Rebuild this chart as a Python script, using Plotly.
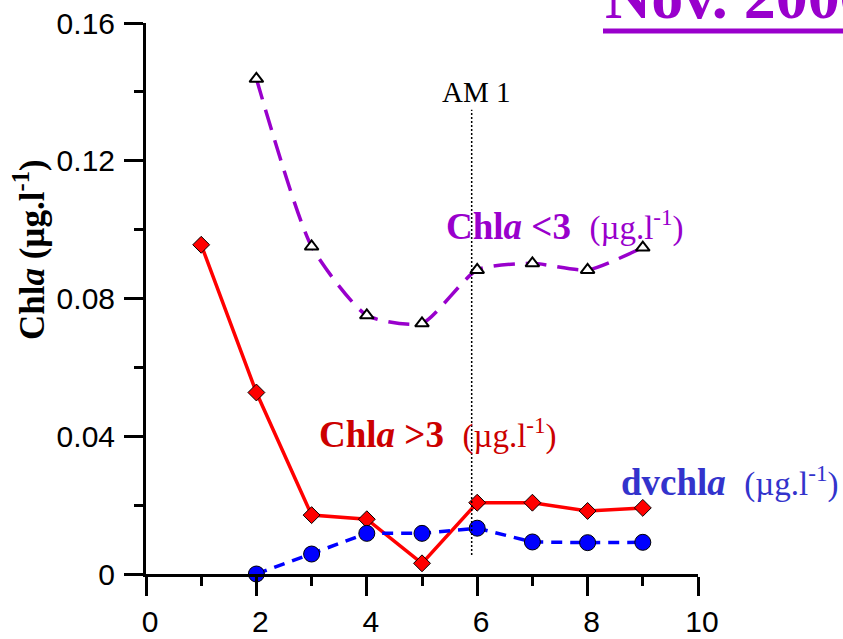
import plotly.graph_objects as go

# Sampling stations and chlorophyll concentrations (µg.l-1)
stations_gt3 = [1, 2, 3, 4, 5, 6, 7, 8, 9]
chla_gt3 = [0.0956, 0.0527, 0.0171, 0.0159, 0.0031, 0.0207, 0.0207, 0.0183, 0.0192]

stations_lt3 = [2, 3, 4, 5, 6, 7, 8, 9]
chla_lt3 = [0.1438, 0.0951, 0.0751, 0.0728, 0.0883, 0.0902, 0.0883, 0.0948]

stations_dv = [2, 3, 4, 5, 6, 7, 8, 9]
dvchla = [0.0, 0.0058, 0.0118, 0.0118, 0.0133, 0.0093, 0.0091, 0.0092]

# Position of the AM 1 reference station
am1_x = 5.9
am1_y = [0.0055, 0.1348]

x_ticks = [0, 2, 4, 6, 8, 10]
y_ticks = [0, 0.04, 0.08, 0.12, 0.16]
y_ticktext = ["0", "0.04", "0.08", "0.12", "0.16"]

PURPLE = "#9900CC"
SERIF = "Liberation Serif, Times New Roman, serif"
SANS = "Liberation Sans, Arial, sans-serif"

fig = go.Figure()

fig.add_trace(go.Scatter(
    x=stations_lt3, y=chla_lt3, mode="lines+markers",
    line=dict(color=PURPLE, width=3.5, dash="21px,11px", shape="spline", smoothing=0.6),
    marker=dict(symbol="triangle-up", size=12, color="white",
                line=dict(color="black", width=2)),
    showlegend=False,
))

fig.add_trace(go.Scatter(
    x=stations_gt3, y=chla_gt3, mode="lines+markers",
    line=dict(color="#FF0000", width=3.5),
    marker=dict(symbol="diamond", size=13, color="#FF0000",
                line=dict(color="black", width=1)),
    showlegend=False,
))

fig.add_trace(go.Scatter(
    x=stations_dv, y=dvchla, mode="lines+markers",
    line=dict(color="#0000FF", width=3.5, dash="11px,8px"),
    marker=dict(symbol="circle", size=16, color="#0000FF",
                line=dict(color="black", width=1)),
    showlegend=False,
    cliponaxis=False,
))

# AM 1 marker line
fig.add_shape(type="line", xref="x", yref="y",
              x0=am1_x, x1=am1_x, y0=am1_y[0], y1=am1_y[1],
              line=dict(color="black", width=1.5, dash="2px,2px"))

fig.add_annotation(text="AM 1", xref="x", yref="y", x=am1_x, y=am1_y[1],
                   xanchor="center", yanchor="bottom", yshift=0, xshift=4, showarrow=False,
                   font=dict(family=SERIF, size=29, color="black"))

unit = "&nbsp;&nbsp;<span style='font-weight:normal;font-size:33px'>(µg.l<sup>-1</sup>)</span>"

fig.add_annotation(text="<b>Chl<i>a</i> &lt;3</b>" + unit,
                   xref="paper", yref="paper",
                   x=(444 - 146) / 552, y=(574 - 225) / 551,
                   xanchor="left", yanchor="middle", showarrow=False,
                   font=dict(family=SERIF, size=37, color=PURPLE))

fig.add_annotation(text="<b>Chl<i>a</i> &gt;3</b>" + unit,
                   xref="paper", yref="paper",
                   x=(317 - 146) / 552, y=(574 - 433) / 551,
                   xanchor="left", yanchor="middle", showarrow=False,
                   font=dict(family=SERIF, size=37, color="#CC0000"))

fig.add_annotation(text="<b>dvchl<i>a</i></b>" + unit,
                   xref="paper", yref="paper",
                   x=(619 - 146) / 552, y=(574 - 481) / 551,
                   xanchor="left", yanchor="middle", showarrow=False,
                   font=dict(family=SERIF, size=37, color="#3333CC"))

# Y axis title
fig.add_annotation(text="<b>Chl<i>a</i> (µg.l<sup>-1</sup>)</b>",
                   xref="paper", yref="paper",
                   x=(29 - 146) / 552, y=(574 - 250) / 551,
                   xanchor="center", yanchor="middle", textangle=-90, showarrow=False,
                   font=dict(family=SERIF, size=35, color="black"))

# Heading with underline
fig.add_annotation(text="<b>Nov. 2006</b>",
                   xref="paper", yref="paper",
                   x=(603 - 146) / 552, y=(574 - 34) / 551,
                   xanchor="left", yanchor="bottom", showarrow=False,
                   font=dict(family=SERIF, size=64, color=PURPLE))
fig.add_shape(type="line", xref="paper", yref="paper",
              x0=(603 - 146) / 552, x1=1.4, y0=(574 - 31) / 551, y1=(574 - 31) / 551,
              line=dict(color=PURPLE, width=5))

axis_common = dict(
    showline=True, linecolor="black", linewidth=3,
    ticks="outside", ticklen=19, tickwidth=3, tickcolor="black",
    showgrid=False, zeroline=False, automargin=False,
    tickfont=dict(family=SANS, size=30, color="black"),
)

fig.update_xaxes(range=[0, 10], tickvals=x_ticks, ticktext=[str(v) for v in x_ticks],
                 minor=dict(dtick=1, ticks="outside", ticklen=9, tickwidth=3, tickcolor="black"),
                 ticklabelstandoff=0, ticklabelshift=4, **axis_common)
fig.update_yaxes(range=[0, 0.16], tickvals=y_ticks, ticktext=y_ticktext,
                 minor=dict(dtick=0.02, ticks="outside", ticklen=9, tickwidth=3, tickcolor="black"),
                 ticklabelstandoff=3, **axis_common)

fig.update_layout(
    width=843, height=639,
    margin=dict(l=146, r=145, t=23, b=65, pad=0),
    paper_bgcolor="white", plot_bgcolor="white",
)

fig.write_html("out.html")
